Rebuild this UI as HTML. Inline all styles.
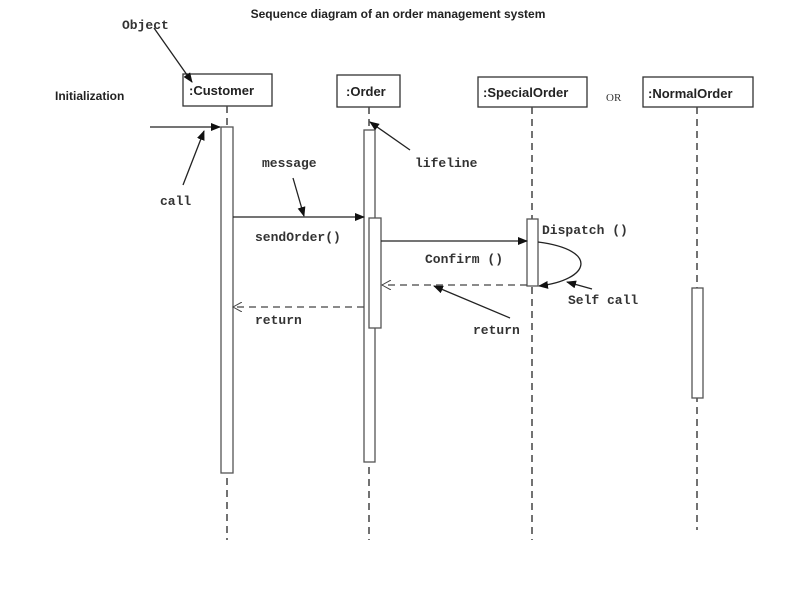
<!DOCTYPE html>
<html><head><style>body{margin:0;background:#fff}svg{display:block}</style></head><body>
<svg width="807" height="597" xmlns="http://www.w3.org/2000/svg">
<defs>
<marker id="f" markerWidth="10" markerHeight="8" refX="9" refY="4" orient="auto" markerUnits="userSpaceOnUse"><path d="M0,0 L10,4 L0,8z" fill="#111"/></marker>
<marker id="o" markerWidth="10" markerHeight="10" refX="9" refY="5" orient="auto" markerUnits="userSpaceOnUse"><path d="M0,0 L9,5 L0,10" fill="none" stroke="#444" stroke-width="1"/></marker>
</defs>
<g fill="#fff" stroke="#333" stroke-width="1.3">
<rect x="183" y="74" width="89" height="32"/>
<rect x="337" y="75" width="63" height="32"/>
<rect x="478" y="77" width="109" height="30"/>
<rect x="643" y="77" width="110" height="30"/>
</g>
<g font-family="Liberation Sans, sans-serif" font-weight="bold" fill="#222">
<text x="398" y="18" font-size="12" text-anchor="middle">Sequence diagram of an order management system</text>
<text x="55" y="100" font-size="12">Initialization</text>
<text x="189" y="95" font-size="13">:Customer</text>
<text x="346" y="96" font-size="13">:Order</text>
<text x="483" y="97" font-size="13">:SpecialOrder</text>
<text x="648" y="98" font-size="13">:NormalOrder</text>
</g>
<g font-family="Liberation Mono, monospace" font-weight="bold" font-size="13" fill="#333">
<text x="122" y="29">Object</text>
<text x="606" y="101" font-family="Liberation Serif, serif" font-weight="normal" font-size="11">OR</text>
<text x="160" y="205">call</text>
<text x="262" y="167">message</text>
<text x="255" y="241">sendOrder()</text>
<text x="415" y="167">lifeline</text>
<text x="542" y="234">Dispatch ()</text>
<text x="425" y="263">Confirm ()</text>
<text x="568" y="304">Self call</text>
<text x="473" y="334">return</text>
<text x="255" y="324">return</text>
</g>
<g stroke="#444" stroke-width="1.5" stroke-dasharray="7,5">
<line x1="227" y1="106" x2="227" y2="540"/>
<line x1="369" y1="107" x2="369" y2="540"/>
<line x1="532" y1="107" x2="532" y2="540"/>
<line x1="697" y1="107" x2="697" y2="530"/>
</g>
<g fill="#fff" stroke="#555" stroke-width="1.3">
<rect x="221" y="127" width="12" height="346"/>
<rect x="364" y="130" width="11" height="332"/>
<rect x="369" y="218" width="12" height="110"/>
<rect x="527" y="219" width="11" height="67"/>
<rect x="692" y="288" width="11" height="110"/>
</g>
<g stroke="#222" stroke-width="1.3" fill="none">
<line x1="150" y1="127" x2="220" y2="127" marker-end="url(#f)"/>
<line x1="154" y1="28" x2="192" y2="82" marker-end="url(#f)"/>
<line x1="183" y1="185" x2="204" y2="131" marker-end="url(#f)"/>
<line x1="293" y1="178" x2="304" y2="216" marker-end="url(#f)"/>
<line x1="233" y1="217" x2="364" y2="217" marker-end="url(#f)"/>
<line x1="410" y1="150" x2="370" y2="122" marker-end="url(#f)"/>
<line x1="381" y1="241" x2="527" y2="241" marker-end="url(#f)"/>
<path d="M538,242 C600,250 590,280 539,286" marker-end="url(#f)"/>
<line x1="592" y1="289" x2="567" y2="282" marker-end="url(#f)"/>
<line x1="510" y1="318" x2="434" y2="286" marker-end="url(#f)"/>
</g>
<g stroke="#444" stroke-width="1.3" stroke-dasharray="7,5" fill="none">
<line x1="527" y1="285" x2="382" y2="285" marker-end="url(#o)"/>
<line x1="364" y1="307" x2="233" y2="307" marker-end="url(#o)"/>
</g>
</svg>
</body></html>
